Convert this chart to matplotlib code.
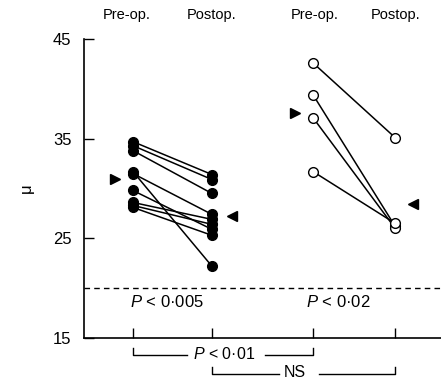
import matplotlib
matplotlib.use("Agg")
import matplotlib.pyplot as plt

plt.rcParams['font.family'] = ['Liberation Sans', 'DejaVu Sans']
plt.rcParams['mathtext.fontset'] = 'custom'
plt.rcParams['mathtext.it'] = 'Liberation Sans:italic'
plt.rcParams['mathtext.rm'] = 'Liberation Sans'

# group 1 (filled circles): paired pre-op / postop values
pre_filled = [34.7, 34.3, 33.8, 31.7, 31.5, 29.8, 28.6, 28.3, 28.1]
post_filled = [31.4, 30.9, 29.5, 22.2, 27.4, 25.9, 26.9, 26.4, 25.3]

# group 2 (open circles)
pre_open = [42.6, 39.4, 37.1, 31.7]
post_open = [35.1, 26.2, 26.0, 26.5]

# mean arrows
mean_filled = [31.0, 27.2]
mean_open = [37.6, 28.4]

x_positions = [1.0, 2.0, 3.28, 4.32]
col_labels = ['Pre-op.', 'Postop.', 'Pre-op.', 'Postop.']
y_ticks = [15, 25, 35, 45]

fig = plt.figure(figsize=(4.41, 3.81), dpi=100)
ax = fig.add_axes([84 / 441, 1 - 338 / 381, 1 - 84 / 441, (338 - 39) / 381])

xp1, xq1, xp2, xq2 = x_positions

for a, b in zip(pre_filled, post_filled):
    ax.plot([xp1, xq1], [a, b], color='black', lw=1.1, zorder=2)
ax.plot([xp1] * len(pre_filled), pre_filled, 'o', color='black', ms=7, zorder=3)
ax.plot([xq1] * len(post_filled), post_filled, 'o', color='black', ms=7, zorder=3)

for a, b in zip(pre_open, post_open):
    ax.plot([xp2, xq2], [a, b], color='black', lw=1.1, zorder=2)
ax.plot([xp2] * len(pre_open), pre_open, 'o', mfc='white', mec='black', mew=1.0, ms=7, zorder=3)
ax.plot([xq2] * len(post_open), post_open, 'o', mfc='white', mec='black', mew=1.0, ms=7, zorder=3)

# mean arrowheads
ax.plot(xp1 - 0.23, mean_filled[0], marker='>', color='black', ms=7, zorder=3)
ax.plot(xq1 + 0.25, mean_filled[1], marker='<', color='black', ms=7, zorder=3)
ax.plot(xp2 - 0.23, mean_open[0], marker='>', color='black', ms=7, zorder=3)
ax.plot(xq2 + 0.23, mean_open[1], marker='<', color='black', ms=7, zorder=3)

# reference line
ax.axhline(20, color='black', lw=1.0, ls=(0, (4, 3)))

ax.set_xlim(0.38, 4.9)
ax.set_ylim(15, 45)
ax.set_yticks(y_ticks)
ax.set_yticklabels([str(v) for v in y_ticks])
ax.set_xticks(x_positions)
ax.set_xticklabels([])
ax.tick_params(axis='both', direction='in', length=7, width=1.0, colors='black',
               labelsize=12, pad=9)
ax.spines['top'].set_visible(False)
ax.spines['right'].set_visible(False)
ax.spines['left'].set_linewidth(1.2)
ax.spines['bottom'].set_linewidth(1.2)
ax.set_ylabel('μ', fontsize=12, labelpad=14)

# column headings
for xv, lab in zip([0.92, 2.0, 3.3, 4.33], col_labels):
    ax.text(xv, 47.4, lab, ha='center', va='center', fontsize=10.5, clip_on=False)

# significance text inside
ax.text(1.43, 18.6, '$P$ < 0·005', ha='center', va='center', fontsize=12)
ax.text(3.6, 18.6, '$P$ < 0·02', ha='center', va='center', fontsize=12)

# brackets below the axis
def bracket(x0, x1, y, label, xt, wl, wr):
    kw = dict(color='black', lw=1.0, clip_on=False)
    ax.plot([x0, x0, xt - wl], [y + 0.7, y, y], **kw)
    ax.plot([xt + wr, x1, x1], [y, y, y + 0.7], **kw)
    ax.text(xt, y + 0.1, label, ha='center', va='center', fontsize=11.5, clip_on=False)

bracket(xp1, xp2, 13.3, '$P$ < 0·01', 2.15, 0.47, 0.52)
bracket(xq1, xq2, 11.4, 'NS', 3.05, 0.2, 0.3)

fig.savefig('out.png', dpi=100)
